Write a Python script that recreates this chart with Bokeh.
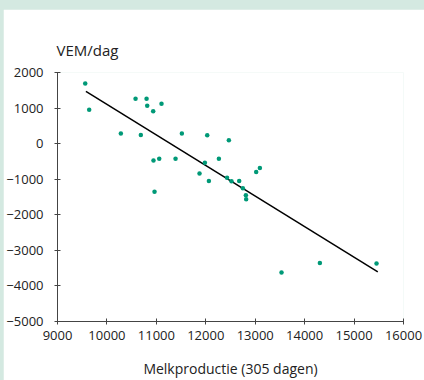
from bokeh.plotting import figure
from bokeh.layouts import column
from bokeh.models import Range1d, FixedTicker
from bokeh.embed import file_html
from bokeh.resources import INLINE

# data
melk = [9561, 9641, 10579, 10802, 10815, 10936, 11104, 10282, 10686, 11516,
        12029, 12467, 10942, 11058, 11388, 11982, 12265, 11873, 12063, 10963,
        12676, 12750, 12811, 12817, 13020, 13094, 13532, 14308, 15454,
        12430, 12520]
vem = [1692, 955, 1263, 1263, 1067, 908, 1123, 283, 245, 283,
       236, 96, -473, -427, -427, -540, -427, -837, -1052, -1352,
       -1052, -1257, -1453, -1565, -800, -688, -3620, -3358, -3367,
       -960, -1060]
trend_x = [9575, 15480]
trend_y = [1470, -3605]
x_ticks = [9000, 10000, 11000, 12000, 13000, 14000, 15000, 16000]
y_ticks = [-5000, -4000, -3000, -2000, -1000, 0, 1000, 2000]

FONT = "Open Sans"

p = figure(width=421, height=371, output_backend="svg", toolbar_location=None,
           x_range=Range1d(9000, 16000), y_range=Range1d(-5000, 2000),
           min_border_left=54, min_border_right=21, min_border_top=63,
           min_border_bottom=58, title="VEM/dag")
p.margin = (9, 0, 0, 3)
p.outline_line_color = None
p.grid.grid_line_color = None
p.background_fill_color = "white"
p.border_fill_color = "white"

p.title.align = "left"
p.title.offset = -1
p.title.standoff = 25
p.title.text_font = FONT
p.title.text_font_size = "15px"
p.title.text_font_style = "normal"
p.title.text_color = "#222222"

p.line(trend_x, trend_y, line_color="black", line_width=1.5)
p.scatter(melk, vem, size=4.5, fill_color="#009977", line_color=None)

for ax in (p.xaxis[0], p.yaxis[0]):
    ax.axis_line_color = "#444444"
    ax.major_tick_line_color = "#444444"
    ax.major_tick_in = 3
    ax.major_tick_out = 3
    ax.minor_tick_line_color = None
    ax.major_label_text_font = FONT
    ax.major_label_text_font_size = "13px"
    ax.major_label_text_color = "#222222"

p.xaxis.ticker = FixedTicker(ticks=x_ticks)
p.yaxis.ticker = FixedTicker(ticks=y_ticks)
p.xaxis.major_label_standoff = 6
p.yaxis.major_label_standoff = 11

p.xaxis.axis_label = "Melkproductie (305 dagen)"
p.xaxis.axis_label_text_font = FONT
p.xaxis.axis_label_text_font_size = "14px"
p.xaxis.axis_label_text_font_style = "normal"
p.xaxis.axis_label_text_color = "#222222"
p.xaxis.axis_label_standoff = 16

layout = column(p, width=424, height=380,
                styles={"background-color": "#d4e9e1"})

open("out.html", "w").write(file_html(layout, INLINE))
